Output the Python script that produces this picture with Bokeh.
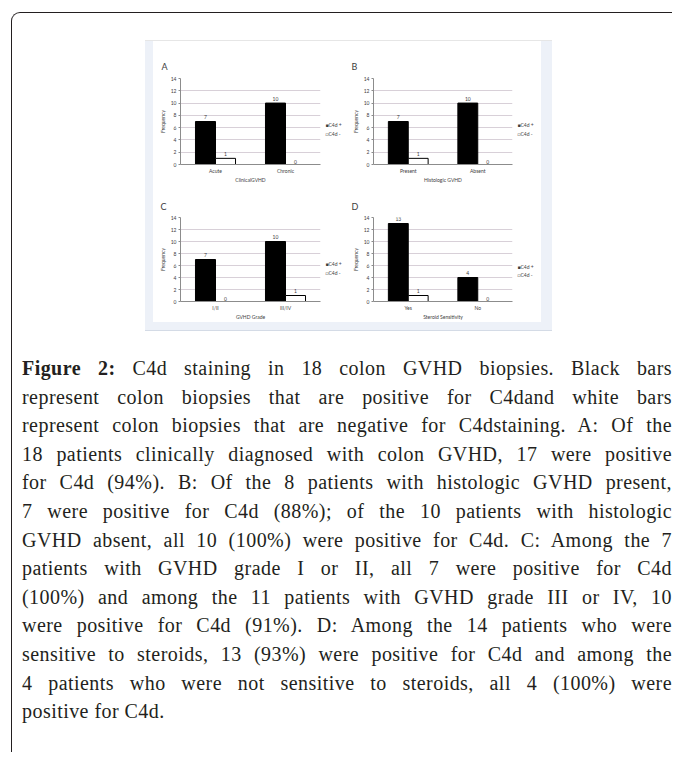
from bokeh.plotting import figure
from bokeh.models import (Range1d, FactorRange, ColumnDataSource, LinearAxis,
                          Title, Div, Spacer, FixedTicker)
from bokeh.layouts import column, row
from bokeh.transform import dodge
from bokeh.core.properties import value
from bokeh.embed import file_html
from bokeh.resources import INLINE

# ---------------- data ----------------
series_labels = ["C4d +", "C4d -"]
series_marks = ["\u25a0", "\u25a1"]
letters = ["A", "B", "C", "D"]
x_titles = ["ClinicalGVHD", "Histologic GVHD", "GVHD Grade", "Steroid Sensitivity"]
y_title = "Frequency"
cats_A = ["Acute", "Chronic"]
cats_B = ["Present", "Absent"]
cats_C = ["I/II", "III/IV"]
cats_D = ["Yes", "No"]
pos_A = [7, 10]
neg_A = [1, 0]
pos_B = [7, 10]
neg_B = [1, 0]
pos_C = [7, 10]
neg_C = [0, 1]
pos_D = [13, 4]
neg_D = [1, 0]
y_ticks = [0, 2, 4, 6, 8, 10, 12, 14]
y_max = 14

caption_bold = "Figure 2:"
caption_lines = [
    " C4d staining in 18 colon GVHD biopsies. Black bars",
    "represent colon biopsies that are positive for C4dand white bars",
    "represent colon biopsies that are negative for C4dstaining. A: Of the",
    "18 patients clinically diagnosed with colon GVHD, 17 were positive",
    "for C4d (94%). B: Of the 8 patients with histologic GVHD present,",
    "7 were positive for C4d (88%); of the 10 patients with histologic",
    "GVHD absent, all 10 (100%) were positive for C4d. C: Among the 7",
    "patients with GVHD grade I or II, all 7 were positive for C4d",
    "(100%) and among the 11 patients with GVHD grade III or IV, 10",
    "were positive for C4d (91%). D: Among the 14 patients who were",
    "sensitive to steroids, 13 (93%) were positive for C4d and among the",
    "4 patients who were not sensitive to steroids, all 4 (100%) were",
    "positive for C4d.",
]

# ---------------- style ----------------
FONT = "Lato"
TXT = "#404040"
GRID = "#d8d0d8"
AXIS = "#8c8c8c"
BAR_W = 0.286
DODGE = 0.143


def make_panel(letter, cats, pos, neg, xtitle, w, h, bl, br, bt, bb, leg_pos,
               let_off, let_std):
    p = figure(width=w, height=h, x_range=FactorRange(factors=cats),
               y_range=Range1d(0, y_max), output_backend="svg", toolbar_location=None,
               min_border_left=bl, min_border_right=br, min_border_top=bt,
               min_border_bottom=bb, outline_line_color=None,
               background_fill_color="white", border_fill_color="white")
    src = ColumnDataSource(dict(
        cat=cats, pos=pos, neg=neg,
        pos_txt=[str(v) for v in pos], neg_txt=[str(v) for v in neg],
        neg_line=[1.0 if v > 0 else 0.0 for v in neg],
        pos_off=[-2.5 if v > 0 else -1.0 for v in pos],
        neg_off=[-2.5 if v > 0 else -1.0 for v in neg],
    ))
    p.vbar(x=dodge("cat", -DODGE, range=p.x_range), top="pos", width=BAR_W,
           source=src, fill_color="black", line_color="black", line_width=1)
    p.vbar(x=dodge("cat", DODGE, range=p.x_range), top="neg", width=BAR_W,
           source=src, fill_color="white", line_color="black",
           line_alpha="neg_line", line_width=1)
    p.text(x=dodge("cat", -DODGE, range=p.x_range), y="pos", text="pos_txt",
           source=src, text_align="center", text_baseline="bottom",
           y_offset="pos_off", text_font_size="5px", text_color=TXT,
           text_font=value(FONT))
    p.text(x=dodge("cat", DODGE, range=p.x_range), y="neg", text="neg_txt",
           source=src, text_align="center", text_baseline="bottom",
           y_offset="neg_off", text_font_size="5px", text_color=TXT,
           text_font=value(FONT))

    # legend, drawn as an unlined axis in the right-hand panel
    p.extra_y_ranges = {"legend": Range1d(0, 1)}
    leg = LinearAxis(y_range_name="legend", ticker=FixedTicker(ticks=list(leg_pos)),
                     major_label_overrides={leg_pos[i]: series_marks[i] + series_labels[i]
                                            for i in range(2)},
                     axis_line_color=None, major_tick_line_color=None,
                     minor_tick_line_color=None, major_tick_out=0, major_tick_in=0,
                     major_label_standoff=5, major_label_text_font_size="5px",
                     major_label_text_font=FONT, major_label_text_color=TXT)
    p.add_layout(leg, "right")

    p.add_layout(Title(text=letter, align="left", offset=let_off, standoff=let_std,
                       text_font_size="9px", text_color=TXT, text_font=FONT,
                       text_font_style="normal"), "above")

    p.xgrid.visible = False
    p.ygrid.ticker = FixedTicker(ticks=y_ticks)
    p.ygrid.grid_line_color = GRID
    p.yaxis[0].ticker = FixedTicker(ticks=y_ticks)
    p.yaxis[0].minor_tick_line_color = None
    p.yaxis[0].major_tick_out = 2
    p.yaxis[0].major_tick_in = 0
    p.yaxis[0].major_label_standoff = 2
    p.yaxis[0].axis_label = y_title
    p.yaxis[0].axis_label_standoff = 2
    p.xaxis.major_tick_out = 0
    p.xaxis.major_tick_in = 0
    p.xaxis.major_label_standoff = 3
    p.xaxis.axis_label = xtitle
    p.xaxis.axis_label_standoff = 0
    for ax in (p.xaxis[0], p.yaxis[0]):
        ax.axis_line_color = AXIS
        ax.major_tick_line_color = AXIS
        ax.major_label_text_font_size = "5px"
        ax.major_label_text_font = FONT
        ax.major_label_text_color = TXT
        ax.axis_label_text_font_size = "5px"
        ax.axis_label_text_font = FONT
        ax.axis_label_text_color = TXT
        ax.axis_label_text_font_style = "normal"
    return p


pA = make_panel(letters[0], cats_A, pos_A, neg_A, x_titles[0], 194, 147, 27, 27, 37, 24, (0.457, 0.352), -19, 13)
pB = make_panel(letters[1], cats_B, pos_B, neg_B, x_titles[1], 194, 147, 26, 29, 37, 24, (0.457, 0.352), -22, 13)
pC = make_panel(letters[2], cats_C, pos_C, neg_C, x_titles[2], 194, 134, 27, 27, 29, 19, (0.45, 0.335), -20, 11)
pD = make_panel(letters[3], cats_D, pos_D, neg_D, x_titles[3], 194, 134, 26, 29, 29, 19, (0.41, 0.32), -22, 12)

STRIP = {"background-color": "#edf1f8"}
grid_block = column(row(pA, pB), row(pC, pD))
img = column(
    row(Spacer(width=8, height=281, styles=STRIP), grid_block,
        Spacer(width=11, height=281, styles=STRIP)),
    Spacer(width=407, height=9, styles={"background-color": "#edf1f8",
                                         "border-bottom": "1px solid #d4dbe6"}),
    styles={"border-top": "1px solid #e6e6e6"},
)

line_css = "text-align:justify;text-align-last:justify;"
html_lines = ['<div style="%s"><b>%s</b>%s</div>' % (line_css, caption_bold, caption_lines[0])]
for ln in caption_lines[1:-1]:
    html_lines.append('<div style="%s">%s</div>' % (line_css, ln))
html_lines.append('<div style="text-align:left;">%s</div>' % caption_lines[-1])
caption = Div(text='<div style="width:650px;">' + "".join(html_lines) + "</div>",
              width=650, height=13 * 29, margin=0,
              styles={"font-family": "'Liberation Serif', serif", "font-size": "20px",
                      "line-height": "28.6px", "letter-spacing": "0.45px",
                      "color": "#231f20", "width": "650px"})

root = column(
    Spacer(width=10, height=27),
    row(Spacer(width=133, height=1), img),
    Spacer(width=10, height=23),
    row(Spacer(width=10, height=1), caption),
    width=661, height=740, margin=(12, 0, 0, 11),
    styles={"border-top": "1.5px solid #231f20", "border-left": "1.5px solid #231f20",
            "border-top-left-radius": "9px", "box-sizing": "border-box"},
)

open("out.html", "w").write(file_html(root, INLINE))
